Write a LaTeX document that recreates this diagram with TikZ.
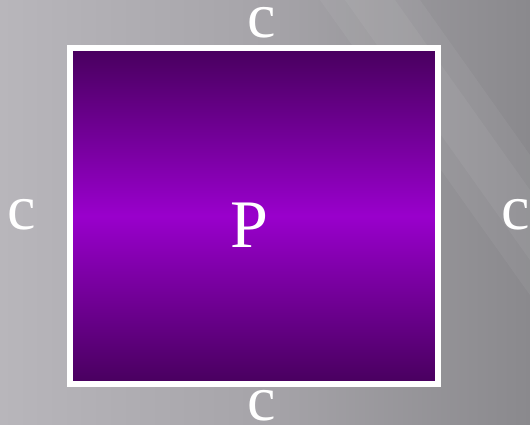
\documentclass[tikz,border=0pt]{standalone}
\usepackage{fontspec}
\setmainfont{Liberation Serif}
\usetikzlibrary{positioning}

\definecolor{bgleft}{RGB}{184,182,187}
\definecolor{bgmid}{RGB}{166,164,169}
\definecolor{bgright}{RGB}{138,137,141}
\definecolor{plumdark}{RGB}{72,0,94}
\definecolor{plumlight}{RGB}{153,0,204}

\tikzset{
  letter/.style={text=white, inner sep=0pt, font=\fontsize{64}{64}\selectfont},
  square/.style={draw=white, line width=6pt, top color=plumdark, bottom color=plumdark,
    middle color=plumlight, minimum width=368pt, minimum height=336pt, inner sep=0pt}
}

\begin{document}
\begin{tikzpicture}[x=1pt, y=1pt]
        % Background
        \useasboundingbox (0,0) rectangle (530,425);
        \shade[left color=bgleft, right color=bgright, middle color=bgmid] (0,0) rectangle (530,425);
        \fill[white, opacity=0.05] (320,425) -- (420,425) -- (530,270) -- (530,130) -- cycle;
        \fill[white, opacity=0.05] (345,425) -- (395,425) -- (530,235) -- (530,165) -- cycle;
        % Square P
        \node[square] (sq) at (254,209) {};
        \node[letter, font=\fontsize{68}{68}\selectfont] (p) at (249,200) {P};
        % Sides c
        \node[letter] (ctop) at (262,402) {c};
        \node[letter] (cleft) at (22,210) {c};
        \node[letter] (cright) at (516,210) {c};
        \node[letter] (cbot) at (262,19) {c};
    \end{tikzpicture}
\end{document}
